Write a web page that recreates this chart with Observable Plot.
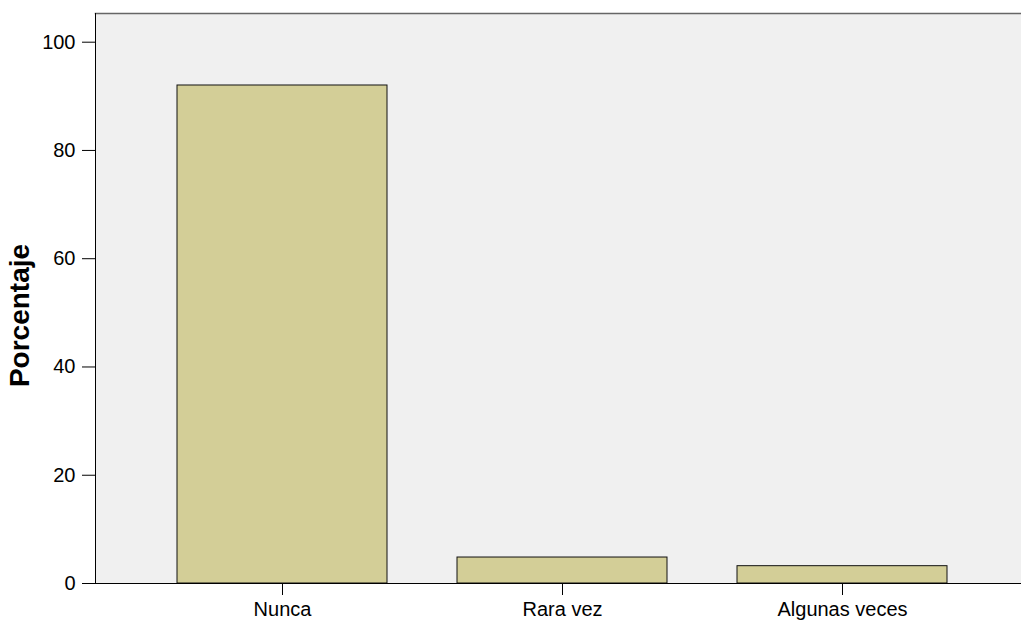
<!DOCTYPE html>
<html>
<head>
<meta charset="utf-8">
<script src="https://cdn.jsdelivr.net/npm/d3@7"></script>
<script src="https://cdn.jsdelivr.net/npm/@observablehq/plot@0.6"></script>
<style>
  html, body { margin: 0; padding: 0; background: #ffffff; }
  #chart svg { display: block; font-family: "Liberation Sans", Arial, sans-serif; }
</style>
</head>
<body>
<div id="chart"></div>
<script>
const categories = ["Nunca", "Rara vez", "Algunas veces"];
const percentages = [92.0, 4.8, 3.2];
const yTicks = [0, 20, 40, 60, 80, 100];
const yLabel = "Porcentaje";

const data = categories.map((c, i) => ({category: c, value: percentages[i]}));

const chart = Plot.plot({
  width: 1021,
  height: 621,
  marginTop: 13,
  marginBottom: 38,
  marginLeft: 95,
  marginRight: 0,
  style: {background: "#ffffff", fontFamily: "Liberation Sans, Arial, sans-serif"},
  x: {domain: categories, range: [95, 1028.5], paddingInner: 0.25, paddingOuter: 0.289, label: null},
  y: {domain: [0, 105.3], label: null},
  marks: [
    Plot.frame({fill: "#f0f0f0", stroke: null}),
    Plot.barY(data, {x: "category", y: "value", fill: "#d3ce97", stroke: "#111", strokeWidth: 1}),
    Plot.frame({anchor: "top", stroke: "#666", strokeWidth: 1.5}),
    Plot.frame({anchor: "left", stroke: "#000"}),
    Plot.ruleY([0], {stroke: "#000"}),
    Plot.axisY({ticks: yTicks, tickSize: 13, tickPadding: 7, fontSize: 20, label: null, color: "#000"}),
    Plot.axisX({tickSize: 12, tickPadding: 6, fontSize: 20, label: null, color: "#000"}),
    Plot.text([yLabel], {frameAnchor: "left", textAnchor: "middle", lineAnchor: "bottom", rotate: -90, dx: -67, dy: 17, fontSize: 28, fontWeight: "bold", fill: "#000"})
  ]
});
document.getElementById("chart").appendChild(chart);
</script>
</body>
</html>
